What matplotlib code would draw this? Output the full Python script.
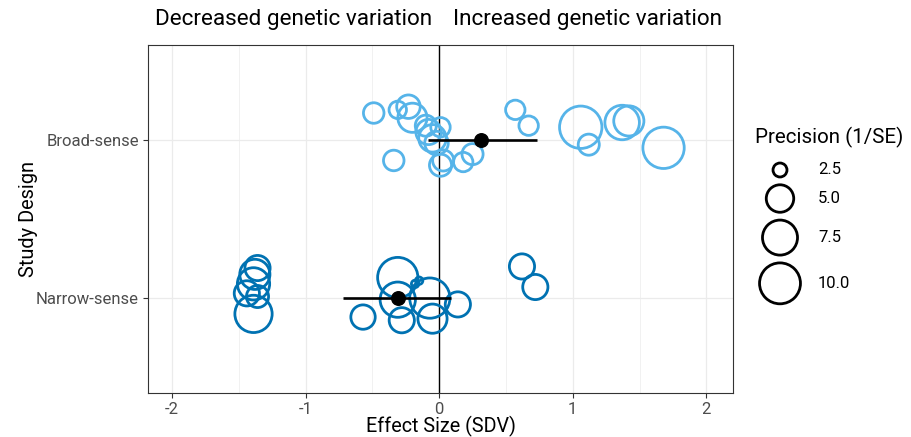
import numpy as np
import matplotlib.pyplot as plt
from matplotlib.ticker import MultipleLocator

plt.rcParams['font.family'] = ['Roboto', 'DejaVu Sans']
plt.rcParams['axes.unicode_minus'] = False

# study designs on the y axis (bottom to top)
designs = ["Narrow-sense", "Broad-sense"]

# broad-sense studies: effect size, vertical jitter, precision (1/SE)
broad_effect = [-0.49, -0.31, -0.23, -0.20, -0.10, -0.08, -0.05, -0.02, 0.01,
                -0.34, 0.01, 0.03, 0.18, 0.25, 0.57, 0.67, 1.06, 1.12, 1.37,
                1.42, 1.68]
broad_jitter = [0.17, 0.19, 0.21, 0.14, 0.09, 0.05, 0.01, -0.02, 0.08,
                -0.13, -0.16, -0.13, -0.14, -0.09, 0.19, 0.09, 0.08, -0.03,
                0.11, 0.12, -0.05]
broad_precision = [3.4, 2.9, 4.0, 5.5, 3.5, 4.4, 5.0, 4.0, 3.2,
                   3.4, 3.7, 3.5, 3.2, 3.5, 3.2, 3.2, 10.7, 3.5, 7.3,
                   5.8, 10.2]

# narrow-sense studies
narrow_effect = [-1.36, -1.38, -1.39, -1.44, -1.36, -1.39, -0.31, -0.57,
                 -0.31, -0.28, -0.18, -0.15, -0.07, -0.05, 0.14, 0.62, 0.72]
narrow_jitter = [0.19, 0.15, 0.09, 0.03, 0.01, -0.10, 0.13, -0.12,
                 -0.01, -0.14, 0.09, 0.11, 0.00, -0.13, -0.04, 0.20, 0.07]
narrow_precision = [4.4, 5.8, 6.5, 4.4, 3.7, 8.4, 9.7, 4.2,
                    7.6, 4.4, 2.2, 2.2, 9.7, 5.5, 4.4, 4.4, 4.4]

# pooled estimates with confidence intervals (Narrow, Broad)
mean_effect = [-0.31, 0.31]
ci_low = [-0.72, -0.08]
ci_high = [0.09, 0.73]

legend_precision = [2.5, 5.0, 7.5, 10.0]

broad_color = "#56B4E9"
narrow_color = "#0072B2"
DPI = 100


def circle_px(p):
    # diameter in pixels, ggplot-like area scaling
    p = np.asarray(p, dtype=float)
    return 7.4 + 12.0 * np.sqrt(np.clip(p - 2.2, 0, None))


def marker_area(p):
    return (circle_px(p) * 72 / DPI) ** 2


fig = plt.figure(figsize=(9.11, 4.37), dpi=DPI)
ax = fig.add_axes([148 / 911, 44 / 437, 585 / 911, 348 / 437])

ax.axvline(0, color="black", lw=1.0, zorder=2)

ax.scatter(np.array(broad_effect), 2 + np.array(broad_jitter),
           s=marker_area(broad_precision), facecolors="none",
           edgecolors=broad_color, linewidths=2.0, zorder=3)
ax.scatter(np.array(narrow_effect), 1 + np.array(narrow_jitter),
           s=marker_area(narrow_precision), facecolors="none",
           edgecolors=narrow_color, linewidths=2.0, zorder=3)

ypos = [1, 2]
ax.hlines(ypos, ci_low, ci_high, color="black", lw=1.9, zorder=4)
ax.scatter(mean_effect, ypos, s=95, color="black", zorder=5)

ax.set_xlim(-2.18, 2.2)
ax.set_ylim(0.4, 2.6)
ax.set_xticks([-2, -1, 0, 1, 2])
ax.xaxis.set_minor_locator(MultipleLocator(0.5))
ax.set_yticks(ypos)
ax.set_yticklabels(designs)
ax.grid(which="major", color="#EBEBEB", lw=0.9, zorder=0)
ax.grid(which="minor", axis="x", color="#EBEBEB", lw=0.5, zorder=0)
ax.set_axisbelow(True)
ax.tick_params(which="minor", length=0)
ax.tick_params(which="major", length=3.5, color="#333333", width=0.8,
               labelsize=12, labelcolor="#4D4D4D", pad=3)
for sp in ax.spines.values():
    sp.set_color("#333333")
    sp.set_linewidth(0.8)

ax.set_xlabel("Effect Size (SDV)", fontsize=14.2, va="center")
ax.xaxis.set_label_coords(0.5, -0.095)
ax.set_ylabel("Study Design", fontsize=14.4, va="center")
ax.yaxis.set_label_coords(-0.205, 0.5)

fig.text(432 / 911, 1 - 20 / 437, "Decreased genetic variation",
         ha="right", va="center", fontsize=16.2)
fig.text(453 / 911, 1 - 20 / 437, "Increased genetic variation",
         ha="left", va="center", fontsize=16.2)

# size legend drawn in pixel coordinates
leg = fig.add_axes([0, 0, 1, 1], facecolor="none")
leg.set_xlim(0, 911)
leg.set_ylim(437, 0)
leg.axis("off")
outer = circle_px(legend_precision) + 2.8
key_y = [170.0]
for i in range(1, len(legend_precision)):
    key_y.append(key_y[-1] + (outer[i - 1] + outer[i]) / 2 + 5)
leg.scatter([780] * len(key_y), key_y, s=marker_area(legend_precision),
            facecolors="none", edgecolors="black", linewidths=2.0)
for val, yy in zip(legend_precision, key_y):
    leg.text(818, yy, f"{val:.1f}", ha="left", va="center", fontsize=12)
leg.text(755, 137, "Precision (1/SE)", ha="left", va="center", fontsize=14.8)

fig.savefig("out.png", dpi=DPI)
